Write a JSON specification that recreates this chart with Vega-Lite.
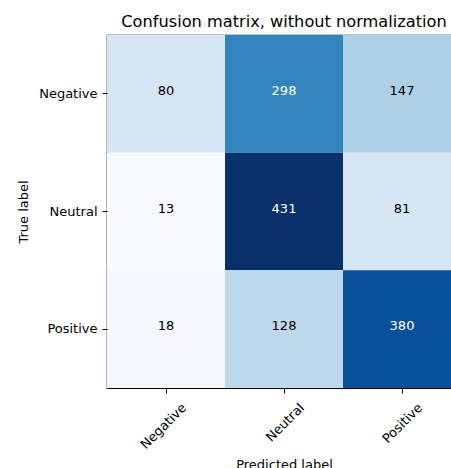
{
  "$schema": "https://vega.github.io/schema/vega-lite/v6.json",
  "autosize": "none",
  "padding": {"left": 107, "top": 35, "right": 0, "bottom": 80},
  "width": 354,
  "height": 353,
  "background": "white",
  "title": {
    "text": "Confusion matrix, without normalization",
    "anchor": "middle",
    "frame": "group",
    "font": "DejaVu Sans",
    "fontSize": 16.2,
    "fontWeight": "normal",
    "color": "black",
    "offset": 5
  },
  "data": {
    "values": [
      {"true": "Negative", "predicted": "Negative", "count": 80},
      {"true": "Negative", "predicted": "Neutral", "count": 298},
      {"true": "Negative", "predicted": "Positive", "count": 147},
      {"true": "Neutral", "predicted": "Negative", "count": 13},
      {"true": "Neutral", "predicted": "Neutral", "count": 431},
      {"true": "Neutral", "predicted": "Positive", "count": 81},
      {"true": "Positive", "predicted": "Negative", "count": 18},
      {"true": "Positive", "predicted": "Neutral", "count": 128},
      {"true": "Positive", "predicted": "Positive", "count": 380}
    ]
  },
  "encoding": {
    "x": {
      "field": "predicted",
      "type": "nominal",
      "sort": ["Negative", "Neutral", "Positive"],
      "scale": {"paddingInner": 0, "paddingOuter": 0},
      "axis": {
        "title": "Predicted label",
        "labelAngle": -45,
        "labelAlign": "right",
        "labelBaseline": "top",
        "labelOffset": 14,
        "labelPadding": 8,
        "titlePadding": 7
      }
    },
    "y": {
      "field": "true",
      "type": "nominal",
      "sort": ["Negative", "Neutral", "Positive"],
      "scale": {"paddingInner": 0, "paddingOuter": 0},
      "axis": {
        "title": "True label",
        "labelPadding": 5,
        "titlePadding": 8
      }
    }
  },
  "layer": [
    {
      "mark": {"type": "rect", "strokeWidth": 0},
      "encoding": {
        "color": {
          "field": "count",
          "type": "quantitative",
          "scale": {
            "domain": [13, 65.25, 117.5, 169.75, 222, 274.25, 326.5, 378.75, 431],
            "range": ["#f7fbff", "#deebf7", "#c6dbef", "#9ecae1", "#6baed6", "#4292c6", "#2171b5", "#08519c", "#08306b"],
            "interpolate": "rgb"
          },
          "legend": null
        }
      }
    },
    {
      "mark": {"type": "text", "font": "DejaVu Sans", "fontSize": 13, "baseline": "middle", "dy": -3},
      "encoding": {
        "text": {"field": "count", "type": "quantitative"},
        "color": {
          "condition": {"test": "datum.count > 215.5", "value": "white"},
          "value": "black"
        }
      }
    }
  ],
  "config": {
    "view": {"stroke": "black", "strokeWidth": 1.2},
    "axis": {
      "labelFont": "DejaVu Sans",
      "labelFontSize": 13,
      "labelColor": "black",
      "titleFont": "DejaVu Sans",
      "titleFontSize": 13,
      "titleFontWeight": "normal",
      "titleColor": "black",
      "tickColor": "black",
      "tickSize": 5,
      "tickWidth": 1,
      "domain": false,
      "grid": false
    }
  }
}
